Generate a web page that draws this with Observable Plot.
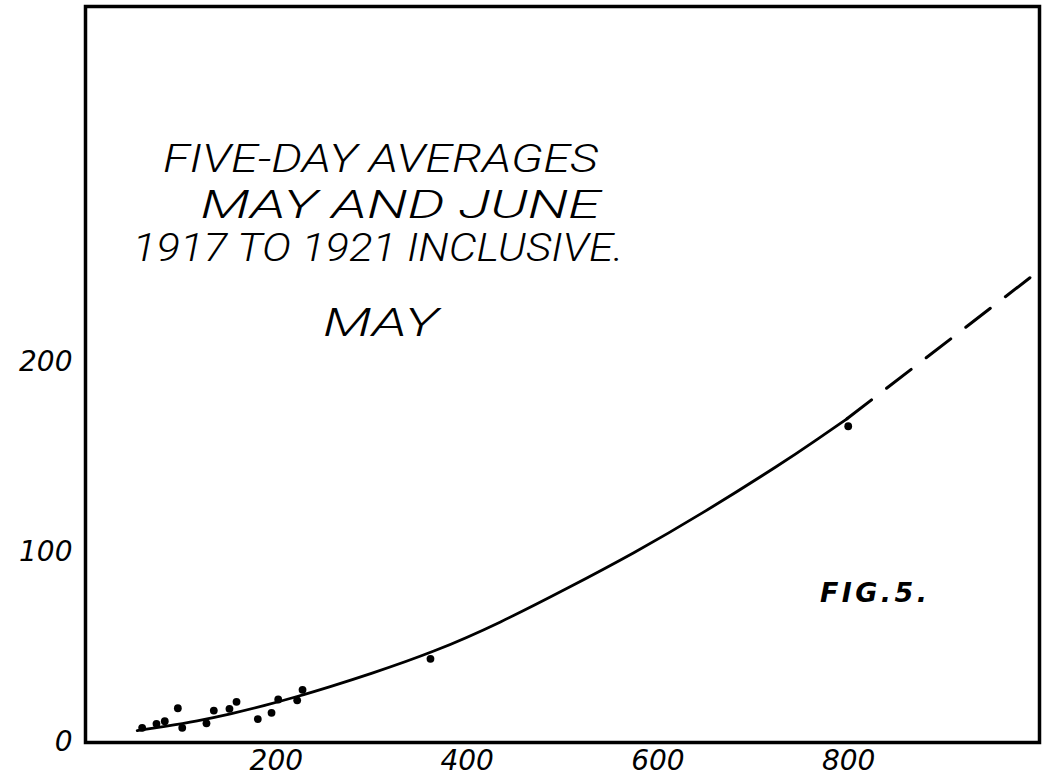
<!DOCTYPE html>
<html>
<head>
<meta charset="utf-8">
<script src="https://cdn.jsdelivr.net/npm/d3@7"></script>
<script src="https://cdn.jsdelivr.net/npm/@observablehq/plot@0.6"></script>
<style>
  html, body { margin: 0; padding: 0; background: #fff; }
  svg { display: block; }
</style>
</head>
<body>
<script>
// Tick values
const xTicks = [200, 400, 600, 800];
const yTicks = [0, 100, 200];

// Observed five-day averages (May)
const obsX = [59.4, 74.4, 83.1, 96.8, 101.4, 126.8, 134.5, 150.9, 158.3, 180.6, 195.0, 202.0, 221.9, 227.5, 361.6, 799.5];
const obsY = [7.7, 9.8, 11.2, 18.0, 7.7, 10.1, 16.8, 17.7, 21.4, 12.3, 15.6, 22.6, 22.2, 27.7, 44.0, 166.3];

// Fitted curve (solid part)
const curveX = [54.2, 82.1, 117.1, 152.0, 186.9, 221.9, 256.8, 295.3, 365.1, 435.0, 504.9, 574.7, 644.7, 733.8, 763.4, 798.2];
const curveY = [6.3, 8.4, 11.3, 15.0, 19.3, 24.1, 29.4, 35.5, 47.5, 63.0, 81.0, 99.5, 119.8, 148.0, 158.2, 170.2];

// Extrapolated curve (dashed part)
const dashX = [798.2, 990.6];
const dashY = [170.2, 244.6];

// Annotations
const titleLines = ["FIVE-DAY AVERAGES", "MAY AND JUNE", "1917 TO 1921 INCLUSIVE.", "MAY"];
const titleX = [309.2, 330.2, 306.6, 309.2];
const titleY = [306.5, 282.3, 259.7, 220.3];
const figLabel = ["FIG.5."];
const figX = [826];
const figY = [78.3];

const obs = obsX.map((x, i) => ({x, y: obsY[i]}));
const curve = curveX.map((x, i) => ({x, y: curveY[i]}));
const dash = dashX.map((x, i) => ({x, y: dashY[i]}));
const titles = titleLines.map((t, i) => ({t, x: titleX[i], y: titleY[i]}));
const figs = figLabel.map((t, i) => ({t, x: figX[i], y: figY[i]}));

const chart = Plot.plot({
  width: 1046,
  height: 783,
  marginLeft: 85,
  marginRight: 7,
  marginTop: 6,
  marginBottom: 41,
  x: {domain: [0, 1000]},
  y: {domain: [0, 387]},
  style: {fontFamily: "'DejaVu Sans', sans-serif", background: "#fff", color: "#000"},
  marks: [
    Plot.frame({stroke: "#000", strokeWidth: 3.5}),
    Plot.axisX({ticks: xTicks, tickSize: 0, tickPadding: 8, fontSize: 28, fontStyle: "italic", label: null, tickFormat: d => String(d)}),
    Plot.axisY({ticks: yTicks, tickSize: 0, tickPadding: 13, fontSize: 28, fontStyle: "italic", label: null, tickFormat: d => String(d)}),
    Plot.line(curve, {x: "x", y: "y", curve: "basis", stroke: "#000", strokeWidth: 2.8}),
    Plot.line(dash, {x: "x", y: "y", stroke: "#000", strokeWidth: 3, strokeDasharray: "31,19"}),
    Plot.dot(obs, {x: "x", y: "y", r: 3.9, fill: "#000", stroke: "none"}),
    Plot.text(titles, {x: "x", y: "y", text: "t", fontFamily: "Roboto, 'DejaVu Sans', sans-serif", fontSize: 39, fontStyle: "italic", fontWeight: 300, fill: "#000", textAnchor: "middle"}),
    Plot.text(figs, {x: "x", y: "y", text: "t", fontSize: 27, fontStyle: "italic", fontWeight: "bold", fill: "#000", textAnchor: "middle"})
  ]
});

document.body.appendChild(chart);

// Fit lettering widths to the hand-lettered original
const titleWidths = [435, 400, 491, 115];
const figWidths = [107];
const textGroups = chart.querySelectorAll('g[aria-label="text"]');
if (textGroups.length >= 2) {
  textGroups[0].querySelectorAll("text").forEach((el, i) => {
    el.setAttribute("textLength", titleWidths[i]);
    el.setAttribute("lengthAdjust", "spacingAndGlyphs");
  });
  textGroups[1].querySelectorAll("text").forEach((el, i) => {
    el.setAttribute("textLength", figWidths[i]);
    el.setAttribute("lengthAdjust", "spacing");
  });
}
</script>
</body>
</html>
